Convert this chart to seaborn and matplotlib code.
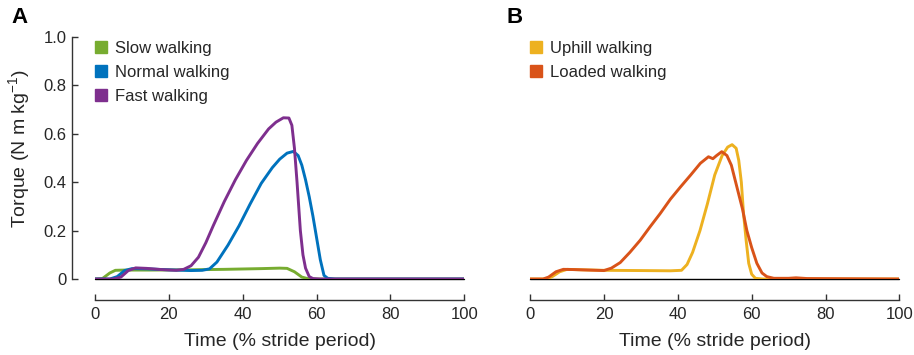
import numpy as np
import pandas as pd
import seaborn as sns
import matplotlib.pyplot as plt
from matplotlib.lines import Line2D

# Torque traces (x in % stride, y in N m/kg)
slow_x = [0, 2, 4, 5.5, 8, 15, 25, 35, 45, 50, 52, 54, 56, 58, 100]
slow_y = [0, 0.002, 0.025, 0.036, 0.037, 0.037, 0.038, 0.040, 0.043, 0.045, 0.044, 0.03, 0.008, 0, 0]

normal_x = [0, 4, 6, 8, 10, 14, 20, 26, 29, 31, 33, 36, 39, 42, 45, 48, 50, 52, 53.7,
            55, 56, 57, 58, 59, 60, 61, 62, 63, 65, 100]
normal_y = [0, 0, 0.01, 0.035, 0.043, 0.042, 0.038, 0.035, 0.036, 0.042, 0.07, 0.14, 0.22, 0.31,
            0.395, 0.46, 0.495, 0.52, 0.527, 0.51, 0.47, 0.41, 0.34, 0.26, 0.17, 0.08, 0.015,
            0.003, 0, 0]

fast_x = [0, 5, 7, 9, 11, 14, 18, 22, 24, 26, 28, 30, 32, 35, 38, 41, 44, 47, 49, 51,
          52.5, 53.3, 54, 54.7, 55.6, 56.3, 57, 58, 59, 61, 100]
fast_y = [0, 0, 0.008, 0.035, 0.046, 0.044, 0.039, 0.036, 0.04, 0.055, 0.09, 0.15, 0.22,
          0.32, 0.41, 0.49, 0.56, 0.62, 0.648, 0.666, 0.665, 0.635, 0.54, 0.4, 0.2, 0.1,
          0.045, 0.01, 0.002, 0, 0]

uphill_x = [0, 4.5, 6, 8, 10, 14, 20, 30, 38, 41, 42.5, 44, 46, 48, 50, 52, 53.5, 54.7,
            55.8, 56.5, 57.2, 57.8, 58.5, 59.2, 60, 61, 63, 100]
uphill_y = [0, 0, 0.01, 0.03, 0.04, 0.038, 0.036, 0.035, 0.034, 0.036, 0.06, 0.11, 0.2,
            0.31, 0.43, 0.51, 0.545, 0.555, 0.54, 0.49, 0.4, 0.27, 0.16, 0.065, 0.02, 0.003, 0, 0]

loaded_x = [0, 3.5, 5, 7, 9, 12, 16, 20, 22, 24.4, 27, 29.8, 32.5, 35.2, 38, 40.7, 43.5,
            46.1, 48.3, 49.5, 50.5, 51.9, 53.3, 54.5, 56, 57.5, 58.7, 60, 61.4, 62.8, 64.1,
            66, 70, 72, 75, 100]
loaded_y = [0, 0, 0.008, 0.03, 0.04, 0.039, 0.037, 0.035, 0.045, 0.068, 0.11, 0.16, 0.216,
            0.27, 0.33, 0.38, 0.43, 0.478, 0.505, 0.497, 0.51, 0.526, 0.51, 0.47, 0.38, 0.29,
            0.2, 0.13, 0.065, 0.025, 0.01, 0.003, 0.003, 0.005, 0.002, 0]

labels_a = ['Slow walking', 'Normal walking', 'Fast walking']
labels_b = ['Uphill walking', 'Loaded walking']
colors_a = ['#77AC30', '#0072BD', '#7E2F8E']
colors_b = ['#EDB120', '#D95319']

def long_form(xs, ys, names):
    parts = []
    for x, y, n in zip(xs, ys, names):
        parts.append(pd.DataFrame({'Time': x, 'Torque': y, 'Condition': n}))
    return pd.concat(parts, ignore_index=True)

df_a = long_form([slow_x, normal_x, fast_x], [slow_y, normal_y, fast_y], labels_a)
df_b = long_form([uphill_x, loaded_x], [uphill_y, loaded_y], labels_b)

sns.set_theme(style="ticks")
plt.rcParams['font.family'] = ['Liberation Sans', 'DejaVu Sans']
plt.rcParams['mathtext.fontset'] = 'custom'
plt.rcParams['mathtext.rm'] = 'Liberation Sans'
plt.rcParams['mathtext.it'] = 'Liberation Sans'

fig = plt.figure(figsize=(9.14, 3.55), dpi=100)
axA = fig.add_axes([0.104, 0.214, 0.404, 0.682])
axB = fig.add_axes([0.580, 0.214, 0.404, 0.682])

text_col = '#262626'
spine_col = '#333333'

for ax, df, labels, colors in [(axA, df_a, labels_a, colors_a), (axB, df_b, labels_b, colors_b)]:
    ax.axhline(0, color='black', lw=1.0, zorder=1, clip_on=False)
    sns.lineplot(data=df, x='Time', y='Torque', hue='Condition', hue_order=labels,
                 palette=colors, linewidth=2.1, legend=False, ax=ax, zorder=3,
                 estimator=None, sort=True)
    ax.set_xlim(0, 100)
    ax.set_ylim(0, 1.0)
    ax.set_xticks([0, 20, 40, 60, 80, 100])
    ax.set_xlabel('Time (% stride period)', fontsize=14, color=text_col, labelpad=8)
    ax.tick_params(axis='both', direction='in', length=4, width=1, colors=spine_col,
                   labelcolor=text_col, labelsize=12)
    ax.tick_params(axis='x', pad=5)
    handles = [Line2D([], [], marker='s', ls='none', color=c, markersize=8) for c in colors]
    ax.legend(handles, labels, loc='upper left', frameon=False, fontsize=12,
              bbox_to_anchor=(-0.024, 1.012), borderaxespad=0, handletextpad=0.35,
              labelspacing=0.55, handlelength=1.0, labelcolor=text_col)
    for sp in ax.spines.values():
        sp.set_color(spine_col)
        sp.set_linewidth(1)

axA.set_yticks([0, 0.2, 0.4, 0.6, 0.8, 1.0])
axA.set_yticklabels(['0', '0.2', '0.4', '0.6', '0.8', '1.0'])
axA.set_ylabel(r'Torque (N m kg$^{-1}$)', fontsize=14, color=text_col, labelpad=7)
axA.yaxis.set_label_coords(-0.17, 0.54)
axA.tick_params(axis='y', pad=4)
sns.despine(ax=axA, offset={'left': 16.5, 'bottom': 15}, trim=True)

axB.set_yticks([])
axB.set_ylabel('')
sns.despine(ax=axB, left=True, offset={'bottom': 15}, trim=True)

fig.text(0.012, 0.95, 'A', fontsize=16, fontweight='bold', color='black', va='center')
fig.text(0.554, 0.95, 'B', fontsize=16, fontweight='bold', color='black', va='center')

plt.savefig('out.png', dpi=100)
plt.close('all')
